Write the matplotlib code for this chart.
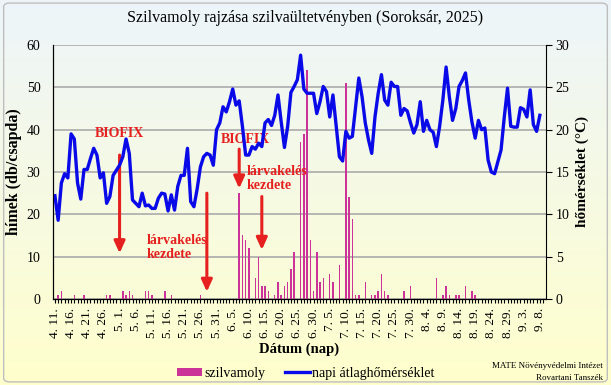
import numpy as np
import pandas as pd
import matplotlib
matplotlib.use("Agg")
import matplotlib.pyplot as plt
from matplotlib.patches import Patch, FancyBboxPatch
from matplotlib.lines import Line2D
from matplotlib.ticker import MultipleLocator, FixedLocator

plt.rcParams['font.family'] = ['Liberation Serif', 'DejaVu Serif']

# Daily series, 2025-04-11 .. 2025-09-08
START = "2025-04-11"
END = "2025-09-08"

# napi átlaghőmérséklet (°C), one value per day
temps = [
    12.2, 9.3, 13.7, 14.8, 14.3, 19.5, 18.9, 13.7, 11.8, 15.3,
    15.3, 16.6, 17.8, 17.0, 14.3, 14.9, 11.3, 12.1, 14.6, 15.2,
    15.8, 16.8, 18.9, 17.2, 11.7, 11.3, 10.9, 12.5, 11.0, 11.1,
    10.7, 10.7, 11.9, 12.5, 12.4, 10.4, 12.3, 10.5, 13.3, 14.6,
    14.6, 17.8, 11.5, 10.9, 13.0, 15.6, 16.8, 17.2, 17.0, 15.8,
    20.0, 20.8, 22.7, 22.1, 23.3, 24.8, 22.9, 23.4, 20.4, 17.0,
    17.0, 18.0, 17.7, 18.4, 18.0, 20.8, 21.2, 20.5, 21.7, 24.1,
    20.9, 17.9, 20.4, 24.4, 25.1, 25.9, 28.8, 24.8, 24.3, 24.3,
    24.3, 21.9, 23.3, 25.1, 24.5, 21.5, 24.1, 20.4, 16.8, 16.3,
    19.8, 19.0, 19.2, 22.7, 26.1, 23.9, 20.8, 18.8, 17.2, 21.5,
    24.3, 26.5, 23.5, 22.9, 25.6, 25.1, 25.1, 21.7, 22.5, 22.2,
    20.8, 19.6, 20.6, 23.3, 19.8, 21.1, 20.0, 19.7, 18.0, 20.4,
    23.5, 27.4, 23.9, 21.1, 22.5, 25.1, 25.8, 26.7, 23.5, 20.9,
    19.0, 21.1, 20.0, 20.2, 16.4, 15.0, 14.8, 16.2, 17.6, 21.5,
    24.9, 20.4, 20.3, 20.3, 22.6, 22.4, 21.5, 24.7, 20.6, 19.8,
    21.7,
]

# szilvamoly fogás (hímek db/csapda), only non-zero days
moth_dates = [
    "04-12", "04-13", "04-17", "04-20", "04-27", "04-28",
    "05-02", "05-03", "05-04", "05-05", "05-09", "05-10", "05-11", "05-15", "05-17", "05-26",
    "06-07", "06-08", "06-09", "06-10", "06-12", "06-13", "06-14", "06-15", "06-16", "06-18",
    "06-19", "06-20", "06-21", "06-22", "06-23", "06-24", "06-26", "06-27", "06-28", "06-29", "06-30",
    "07-01", "07-02", "07-03", "07-05", "07-06", "07-08", "07-10", "07-11", "07-12", "07-13",
    "07-14", "07-16", "07-18", "07-19", "07-20", "07-21", "07-22", "07-23", "07-28", "07-30",
    "08-07", "08-09", "08-10", "08-11", "08-13", "08-14", "08-16", "08-18", "08-19",
]
moth_counts = [
    1, 2, 1, 1, 1, 1,
    2, 1, 2, 1, 2, 2, 1, 2, 1, 1,
    25, 15, 14, 12, 5, 10, 3, 3, 2, 1,
    4, 1, 3, 4, 7, 11, 37, 39, 54, 14, 2,
    11, 4, 5, 6, 4, 8, 51, 24, 19, 1,
    1, 4, 1, 1, 2, 6, 2, 1, 2, 3,
    5, 1, 3, 1, 1, 1, 3, 2, 1,
]

# events marked with red arrows: (date, arrow top, arrow tip) on the left scale
events = [("05-01", 34.0, 10.8), ("05-28", 25.0, 1.7), ("06-07", 35.4, 26.1), ("06-14", 24.2, 11.6)]

RED = "#E5201F"
PINK = "#CC3399"
BLUE = "#0A0AE8"

days = pd.date_range(START, END, freq="D")
x = np.arange(len(days))
counts = np.zeros(len(days))
for d, c in zip(moth_dates, moth_counts):
    counts[days.get_loc(pd.Timestamp("2025-" + d))] = c


def day_idx(md):
    return days.get_loc(pd.Timestamp("2025-" + md))


fig = plt.figure(figsize=(6.11, 3.85), dpi=100)

# chart area gradient (light blue-white on top, pale yellow at the bottom)
bg = fig.add_axes([0, 0, 1, 1], zorder=-10)
top = np.array([0.93, 0.96, 0.98])
bot = np.array([1.0, 1.0, 0.80])
t = np.linspace(0, 1, 256)[:, None]
grad = (top * (1 - t) + bot * t)[:, None, :]
bg.imshow(grad, aspect="auto", extent=[0, 1, 0, 1])
bg.axis("off")
bg.add_patch(FancyBboxPatch((0.006, 0.008), 0.988, 0.984, boxstyle="round,pad=0,rounding_size=0.01",
                            transform=bg.transAxes, fill=False, ec="#BEBEBE", lw=1))

ax = fig.add_axes([0.0867, 0.2234, 0.8069, 0.6597])
ax.set_facecolor("none")
ax.bar(x, counts, width=0.45, color=PINK, zorder=3)
ax.set_ylim(0, 60)
ax.set_xlim(-0.6, 151.9)
ax.set_yticks(range(0, 61, 10))
ax.yaxis.grid(True, color="#ABABAB", lw=1.2)
ax.set_axisbelow(True)
ax.spines["top"].set_visible(False)
ax.spines["right"].set_visible(False)
ax.tick_params(axis="y", length=0, pad=9, labelsize=10)

major = x[::5]
ax.xaxis.set_major_locator(FixedLocator(major))
ax.xaxis.set_minor_locator(MultipleLocator(1))
ax.set_xticklabels([f"{days[i].month}. {days[i].day}." for i in major], rotation=90, fontsize=9.5)
ax.tick_params(axis="x", which="both", direction="out", length=3, width=0.8)
ax.set_ylabel("hímek (db/csapda)", fontsize=11.5, fontweight="bold", labelpad=3)
ax.set_xlabel("Dátum (nap)", fontsize=10.5, fontweight="bold", labelpad=3)

ax2 = ax.twinx()
ax2.plot(x, temps, color=BLUE, lw=2.4, solid_joinstyle="round")
ax2.set_ylim(0, 30)
ax2.set_yticks(range(0, 31, 5))
ax2.spines["top"].set_visible(False)
ax2.tick_params(axis="y", direction="out", length=4, labelsize=10, pad=3)
ax2.set_ylabel("hőmérséklet (°C)", fontsize=11, fontweight="bold", labelpad=4)

# arrows and labels
for md, y0, y1 in events:
    i = day_idx(md)
    ax.annotate("", xy=(i, y1), xytext=(i, y0),
                arrowprops=dict(arrowstyle="-|>,head_length=0.55,head_width=0.25", color=RED, lw=2.2,
                                shrinkA=0, shrinkB=0, mutation_scale=13), zorder=5)

tkw = dict(color=RED, fontsize=10, fontweight="bold", zorder=6)
ax.text(day_idx("05-01"), 39.2, "BIOFIX", ha="center", va="center", **tkw)
ax.text(day_idx("06-09"), 37.6, "BIOFIX", ha="center", va="center", **tkw)
ax.text(day_idx("05-09") + 0.3, 12.2, "lárvakelés\nkezdete", ha="left", va="center", linespacing=1.1, **tkw)
ax.text(day_idx("06-09") + 0.3, 28.4, "lárvakelés\nkezdete", ha="left", va="center", linespacing=1.1, **tkw)

fig.text(0.5, 0.953, "Szilvamoly rajzása szilvaültetvényben (Soroksár, 2025)", ha="center", va="center", fontsize=11.5)

handles = [Patch(facecolor=PINK, edgecolor="none"), Line2D([], [], color=BLUE, lw=2.4)]
fig.legend(handles, ["szilvamoly", "napi átlaghőmérséklet"], loc="center", bbox_to_anchor=(0.5, 0.03),
           ncol=2, frameon=False, fontsize=10, handlelength=1.8, handleheight=0.55,
           handletextpad=0.15, columnspacing=1.4)

fig.text(0.987, 0.05, "MATE Növényvédelmi Intézet", ha="right", va="center", fontsize=6.5)
fig.text(0.987, 0.018, "Rovartani Tanszék", ha="right", va="center", fontsize=6.5)

fig.savefig("out.png", dpi=100)
